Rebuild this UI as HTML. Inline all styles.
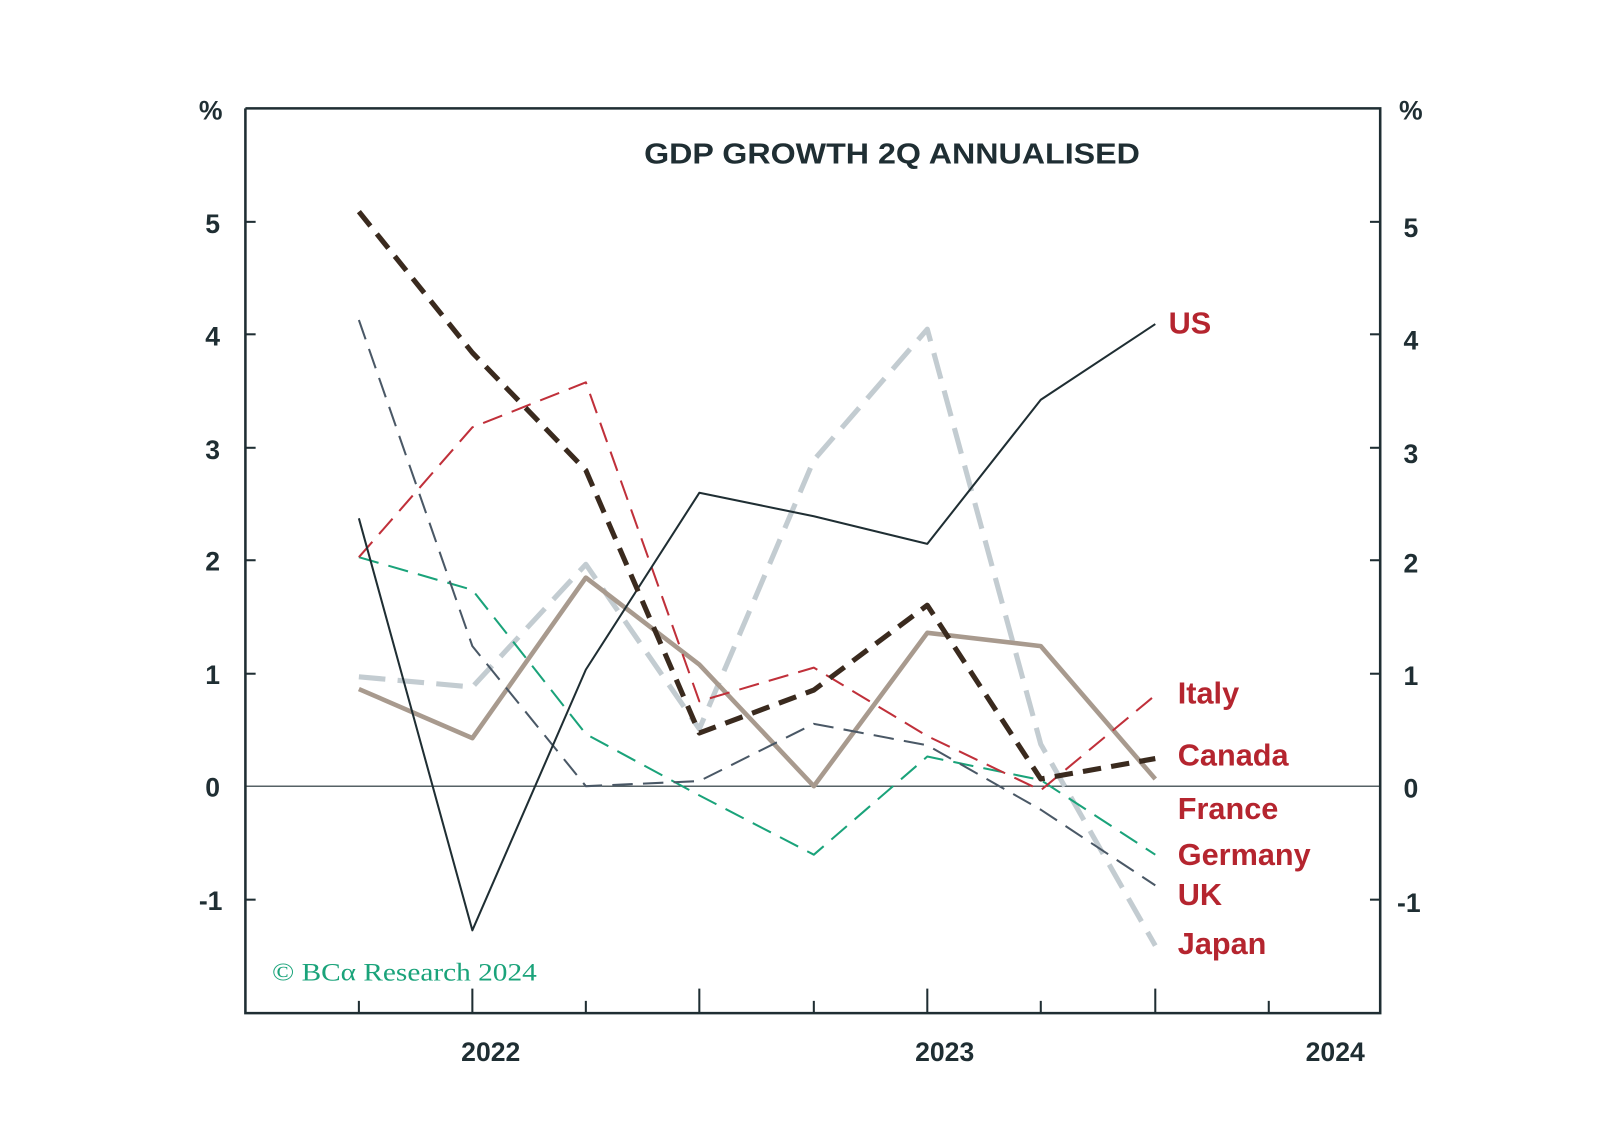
<!DOCTYPE html>
<html><head><meta charset="utf-8"><style>
html,body{margin:0;padding:0;background:#fff;}
svg{display:block;font-family:"Liberation Sans",sans-serif;}
</style></head><body>
<svg width="1598" height="1144" viewBox="0 0 1563 1119" xmlns="http://www.w3.org/2000/svg">
<rect x="0" y="0" width="1563" height="1119" fill="#fff"/>
<g stroke="#1f2e33" stroke-width="2.5" fill="none">
<polyline points="240,106 240,991 1350,991 1350,106 240,106"/>
</g>
<line x1="240" y1="769" x2="1350" y2="769" stroke="#1f2e33" stroke-width="1.2"/>
<g stroke="#1f2e33" stroke-width="2">
<line x1="240" y1="217" x2="250" y2="217"/><line x1="240" y1="327" x2="250" y2="327"/><line x1="240" y1="438" x2="250" y2="438"/><line x1="240" y1="548" x2="250" y2="548"/><line x1="240" y1="659" x2="250" y2="659"/><line x1="240" y1="880" x2="250" y2="880"/>
<line x1="1340" y1="217" x2="1350" y2="217"/><line x1="1340" y1="327" x2="1350" y2="327"/><line x1="1340" y1="438" x2="1350" y2="438"/><line x1="1340" y1="548" x2="1350" y2="548"/><line x1="1340" y1="659" x2="1350" y2="659"/><line x1="1340" y1="880" x2="1350" y2="880"/>
<line x1="351" y1="979" x2="351" y2="991"/><line x1="462" y1="967" x2="462" y2="991"/><line x1="573" y1="979" x2="573" y2="991"/><line x1="684" y1="967" x2="684" y2="991"/><line x1="796" y1="979" x2="796" y2="991"/><line x1="907" y1="967" x2="907" y2="991"/><line x1="1018" y1="979" x2="1018" y2="991"/><line x1="1130" y1="967" x2="1130" y2="991"/><line x1="1241" y1="979" x2="1241" y2="991"/>
</g>
<g fill="#1f2e33" font-size="26" font-weight="bold" text-anchor="middle">
<text x="206" y="117">%</text><text x="1380" y="117">%</text>
<text x="208" y="228">5</text><text x="208" y="338">4</text><text x="208" y="449">3</text><text x="208" y="558">2</text><text x="208" y="669">1</text><text x="208" y="779">0</text><text x="206" y="890">-1</text>
<text x="1380" y="232">5</text><text x="1380" y="342">4</text><text x="1380" y="453">3</text><text x="1380" y="560">2</text><text x="1380" y="670">1</text><text x="1380" y="780">0</text><text x="1378" y="892">-1</text>
<text x="480" y="1038">2022</text><text x="924" y="1038">2023</text><text x="1306" y="1038">2024</text>
</g>
<text x="630" y="160" fill="#1f2e33" font-size="28" font-weight="bold" textLength="485" lengthAdjust="spacingAndGlyphs">GDP GROWTH 2Q ANNUALISED</text>
<text x="266" y="959" fill="#1aa37a" font-size="25" font-family="Liberation Serif,serif" textLength="259" lengthAdjust="spacingAndGlyphs">© BCα Research 2024</text>
<g fill="none" stroke-linejoin="round">
<polyline stroke="#c3ccd1" stroke-width="5" stroke-dasharray="26,12" points="351,662 462,672 573,552 684,713 796,450 907,322 1018,728 1130,925"/>
<polyline stroke="#a89a8e" stroke-width="4.5" points="351,674 462,722 573,565 684,650 796,769 907,619 1018,632 1130,762"/>
<polyline stroke="#1aa37a" stroke-width="2" stroke-dasharray="20,10" points="351,545 462,577 573,718 684,778 796,836 907,740 1018,763 1130,836"/>
<polyline stroke="#4a5866" stroke-width="2" stroke-dasharray="20,10" points="351,313 462,632 573,769 684,764 796,708 907,729 1018,792 1130,866"/>
<polyline stroke="#c0303a" stroke-width="2" stroke-dasharray="20,10" points="351,545 462,418 573,374 684,686 796,653 907,720 1018,773 1130,680"/>
<polyline stroke="#1f2e33" stroke-width="2" points="351,507 462,910 573,655 684,482 796,505 907,532 1018,391 1130,317"/>
<polyline stroke="#3a2a1e" stroke-width="5" stroke-dasharray="18,10" points="351,207 462,345 573,460 684,717 796,675 907,592 1018,762 1130,742"/>
</g>
<g fill="#b5252f" font-size="30" font-weight="bold">
<text x="1143" y="326">US</text>
<text x="1152" y="688">Italy</text>
<text x="1152" y="749">Canada</text>
<text x="1152" y="801">France</text>
<text x="1152" y="846">Germany</text>
<text x="1152" y="885">UK</text>
<text x="1152" y="933">Japan</text>
</g>
</svg>
</body></html>
